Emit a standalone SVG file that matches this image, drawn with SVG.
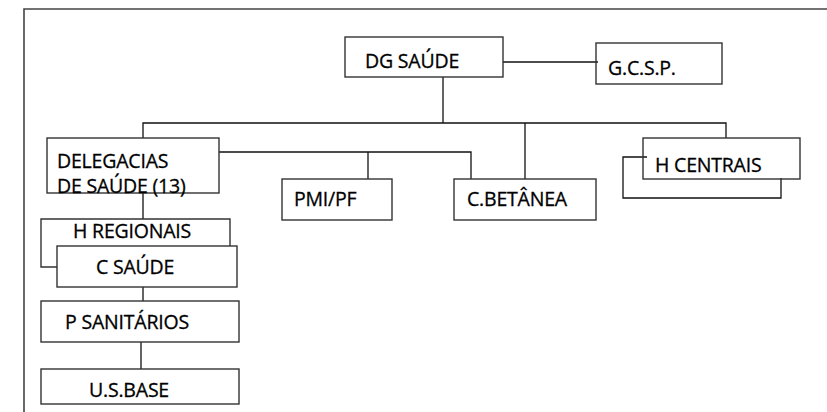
<svg xmlns="http://www.w3.org/2000/svg" width="827" height="412" viewBox="0 0 827 412">
<style>
.box{fill:none;stroke:#333;stroke-width:1.4}
.ln{fill:none;stroke:#111;stroke-width:1.3}
.fr{fill:none;stroke:#444;stroke-width:1.6}
text{font-family:"Open Sans","Liberation Sans",sans-serif;font-size:19.5px;letter-spacing:-0.2px;fill:#000;stroke:#000;stroke-width:0.3}
</style>
<rect width="827" height="412" fill="#fff"/>
<path class="fr" d="M24,412 V9 H827"/>
<g id="connectors">
<path class="ln" d="M503,62 H598"/>
<path class="ln" d="M443,77 V123"/>
<path class="ln" d="M143,138 V123 H726 V138"/>
<path class="ln" d="M525,123 V179"/>
<path class="ln" d="M219,152 H471 V179"/>
<path class="ln" d="M368,152 V179"/>
<path class="ln" d="M143,193 V219"/>
<path class="ln" d="M143,287 V301"/>
<path class="ln" d="M141,342 V369"/>
</g>
<g id="dg-saude"><rect class="box" x="345" y="37" width="158" height="40"/><text x="365" y="68">DG SAÚDE</text></g>
<g id="gcsp"><rect class="box" x="596" y="43" width="126" height="41"/><text x="608" y="75">G.C.S.P.</text></g>
<g id="delegacias"><rect class="box" x="47" y="138" width="172" height="55"/><text x="57" y="168">DELEGACIAS</text><text x="57" y="193">DE SAÚDE (13)</text></g>
<g id="pmi-pf"><rect class="box" x="282" y="179" width="110" height="41"/><text x="294" y="206">PMI/PF</text></g>
<g id="c-betanea"><rect class="box" x="454" y="179" width="142" height="41"/><text x="467" y="206">C.BETÂNEA</text></g>
<g id="h-centrais"><path class="ln" d="M647,157 H623 V198 H781 V178"/><rect class="box" x="643" y="138" width="157" height="41"/><text x="655" y="172">H CENTRAIS</text></g>
<g id="h-regionais"><path class="box" d="M57,267 H41 V219 H230 V246"/><text x="73" y="238">H REGIONAIS</text></g>
<g id="c-saude"><rect class="box" x="57" y="246" width="180" height="41"/><text x="96" y="274">C SAÚDE</text></g>
<g id="p-sanitarios"><rect class="box" x="41" y="301" width="198" height="41"/><text x="65" y="329">P SANITÁRIOS</text></g>
<g id="us-base"><rect class="box" x="41" y="369" width="198" height="35"/><text x="89" y="397">U.S.BASE</text></g>
</svg>
